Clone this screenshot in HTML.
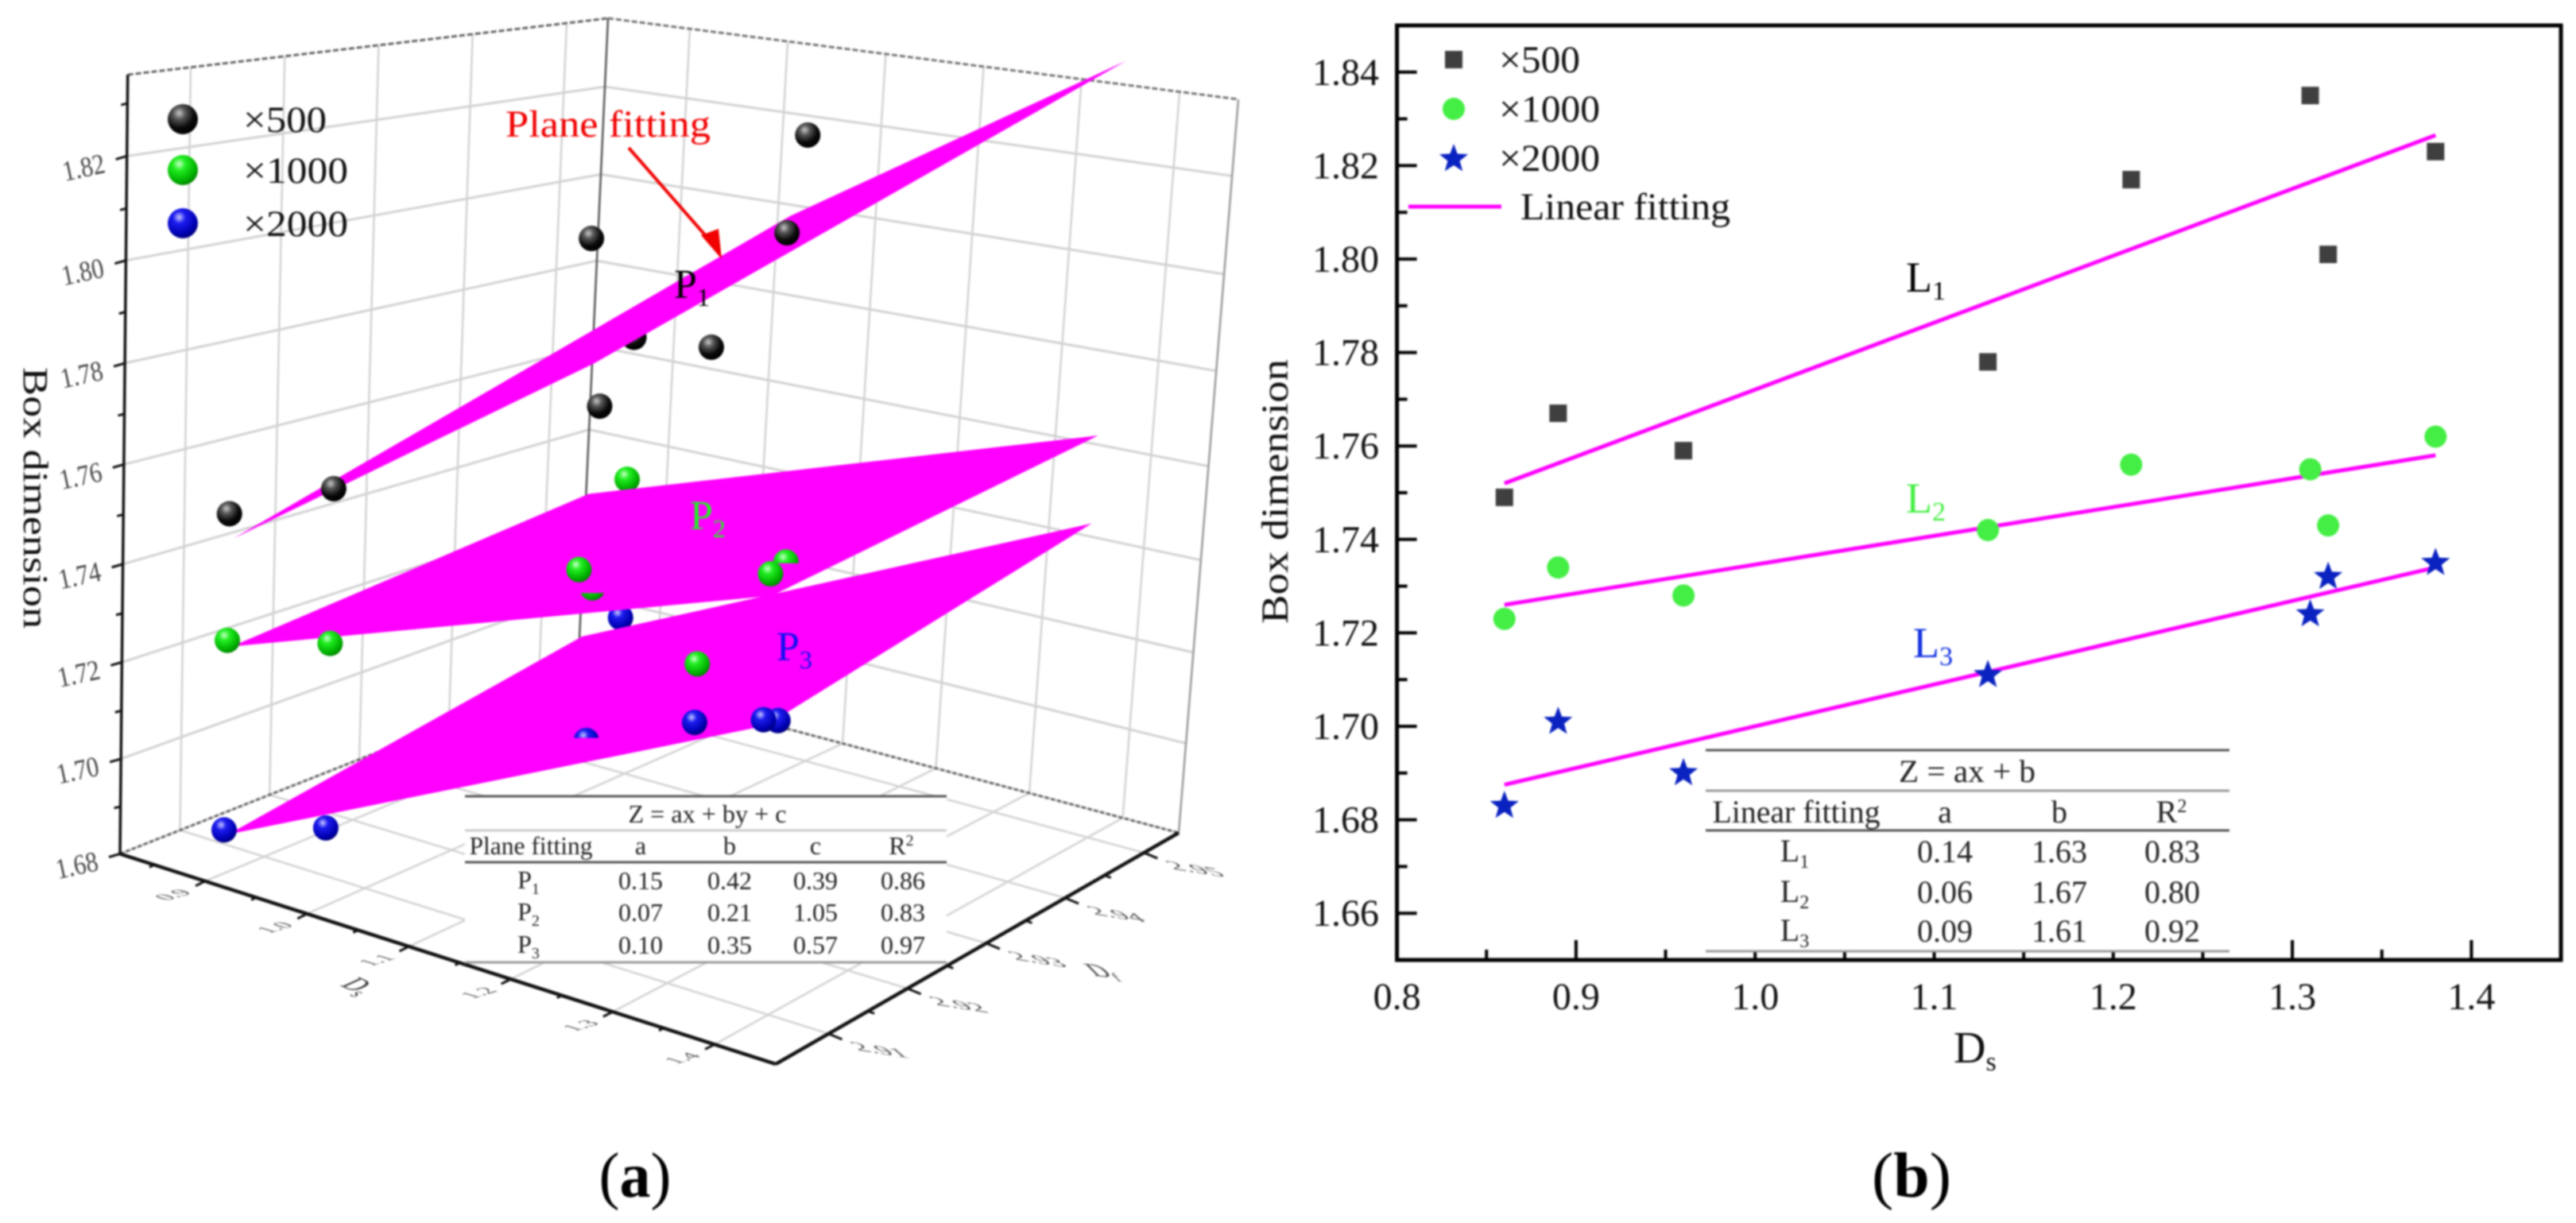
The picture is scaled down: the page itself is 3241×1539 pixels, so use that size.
<!DOCTYPE html>
<html lang="en">
<head>
<meta charset="utf-8">
<title>Box dimension plane and linear fitting</title>
<style>
html,body{margin:0;padding:0;background:#fff;width:3241px;height:1539px;overflow:hidden}
svg{display:block;filter:blur(1px)}
text{font-family:"Liberation Serif",serif}
</style>
</head>
<body>
<svg id="fig" xmlns="http://www.w3.org/2000/svg" width="3241" height="1539" viewBox="0 0 3241 1539">
<defs id="defs">
<radialGradient id="gBlack" cx=".38" cy=".3" r=".7"><stop offset="0" stop-color="#c8c8c8"/><stop offset=".3" stop-color="#555"/><stop offset=".7" stop-color="#0a0a0a"/><stop offset="1" stop-color="#000"/></radialGradient>
<radialGradient id="gGreen" cx=".38" cy=".3" r=".7"><stop offset="0" stop-color="#c8ffc8"/><stop offset=".3" stop-color="#22ee22"/><stop offset=".8" stop-color="#00b000"/><stop offset="1" stop-color="#008a00"/></radialGradient>
<radialGradient id="gBlue" cx=".38" cy=".3" r=".7"><stop offset="0" stop-color="#c8c8ff"/><stop offset=".3" stop-color="#1c1cf0"/><stop offset=".8" stop-color="#0000b0"/><stop offset="1" stop-color="#000080"/></radialGradient>
</defs>
<rect width="3241" height="1539" fill="#fff"/>
<g id="panelA"></g>
<g id="panelATop">
  <circle cx="230" cy="150" r="19" fill="url(#gBlack)"/>
  <circle cx="230" cy="214" r="19" fill="url(#gGreen)"/>
  <circle cx="230" cy="281" r="19" fill="url(#gBlue)"/>
  <text x="306" y="166" font-size="47" textLength="105" lengthAdjust="spacingAndGlyphs" fill="#111">×500</text>
  <text x="306" y="230" font-size="47" textLength="132" lengthAdjust="spacingAndGlyphs" fill="#111">×1000</text>
  <text x="306" y="297" font-size="47" textLength="132" lengthAdjust="spacingAndGlyphs" fill="#111">×2000</text>
  <text x="636" y="172" font-size="48" textLength="258" lengthAdjust="spacingAndGlyphs" fill="#f00000">Plane fitting</text>
  <path d="M791 186L896 306" stroke="#f00000" stroke-width="4" fill="none" transform="translate(0 0)"/>
  <path d="M908 326L882 296L904 288Z" fill="#f00000"/>
  <text x="848" y="375" font-size="52" fill="#000">P<tspan dy="10" font-size="32">1</tspan></text>
  <text x="868" y="666" font-size="52" fill="#22ee22">P<tspan dy="10" font-size="32">2</tspan></text>
  <text x="977" y="831" font-size="52" fill="#1010f0">P<tspan dy="10" font-size="32">3</tspan></text>
  <text transform="translate(30 462) rotate(90)" font-size="44" textLength="329" lengthAdjust="spacingAndGlyphs" fill="#111">Box dimension</text>
  <text transform="matrix(.9 .4 -1.2 .55 427 1240)" font-size="30" fill="#333">D<tspan dy="6" font-size="20">s</tspan></text>
  <text transform="matrix(1 .1 .7 .7 1377 1228)" font-size="34" fill="#444">D<tspan dy="6" font-size="22">f</tspan></text>

  <g font-size="32" fill="#222" text-anchor="middle">
    <rect x="585" y="1002" width="606" height="209" fill="#fff"/>
    <line x1="585" x2="1191" y1="1002" y2="1002" stroke="#555" stroke-width="3"/>
    <line x1="585" x2="1191" y1="1045" y2="1045" stroke="#ccc" stroke-width="3"/>
    <line x1="585" x2="1191" y1="1085" y2="1085" stroke="#555" stroke-width="3"/>
    <line x1="585" x2="1191" y1="1211" y2="1211" stroke="#999" stroke-width="3"/>
    <text x="890" y="1035" textLength="199" lengthAdjust="spacingAndGlyphs">Z = ax + by + c</text>
    <text x="668" y="1075" textLength="155" lengthAdjust="spacingAndGlyphs">Plane fitting</text>
    <text x="806" y="1075">a</text>
    <text x="918" y="1075">b</text>
    <text x="1026" y="1075">c</text>
    <text x="1134" y="1075">R<tspan dy="-11" font-size="20">2</tspan></text>
    <text x="665" y="1118">P<tspan dy="7" font-size="20">1</tspan></text>
    <text x="806" y="1119">0.15</text><text x="918" y="1119">0.42</text><text x="1026" y="1119">0.39</text><text x="1136" y="1119">0.86</text>
    <text x="665" y="1158">P<tspan dy="7" font-size="20">2</tspan></text>
    <text x="806" y="1159">0.07</text><text x="918" y="1159">0.21</text><text x="1026" y="1159">1.05</text><text x="1136" y="1159">0.83</text>
    <text x="665" y="1199">P<tspan dy="7" font-size="20">3</tspan></text>
    <text x="806" y="1200">0.10</text><text x="918" y="1200">0.35</text><text x="1026" y="1200">0.57</text><text x="1136" y="1200">0.97</text>
  </g>
  <text x="799" y="1506" font-size="80" text-anchor="middle" textLength="91" lengthAdjust="spacingAndGlyphs" fill="#000">(<tspan font-weight="bold">a</tspan>)</text>
</g>

<g id="panelB"></g>
<g id="panelBTop">
  <rect x="1818" y="64" width="22" height="22" fill="#3f3f3f"/>
  <circle cx="1829" cy="137" r="14" fill="#44ee44"/>
  <polygon id="legendStar" fill="#0a22c0"/>
  <line x1="1772" x2="1889" y1="260" y2="260" stroke="#ff00ff" stroke-width="5"/>
  <text x="1886" y="91" font-size="48" textLength="102" lengthAdjust="spacingAndGlyphs" fill="#111">×500</text>
  <text x="1886" y="153" font-size="48" textLength="127" lengthAdjust="spacingAndGlyphs" fill="#111">×1000</text>
  <text x="1886" y="215" font-size="48" textLength="127" lengthAdjust="spacingAndGlyphs" fill="#111">×2000</text>
  <text x="1913" y="276" font-size="48" textLength="264" lengthAdjust="spacingAndGlyphs" fill="#111">Linear fitting</text>
  <text x="2398" y="367" font-size="54" fill="#000">L<tspan dy="10" font-size="34">1</tspan></text>
  <text x="2398" y="645" font-size="54" fill="#44ee44">L<tspan dy="10" font-size="34">2</tspan></text>
  <text x="2407" y="827" font-size="54" fill="#1030e0">L<tspan dy="10" font-size="34">3</tspan></text>
  <text transform="translate(1620 785) rotate(-90)" font-size="48" textLength="333" lengthAdjust="spacingAndGlyphs" fill="#111">Box dimension</text>
  <text x="2458" y="1337" font-size="56" fill="#111">D<tspan dy="10" font-size="34">s</tspan></text>
  <text x="2405" y="1506" font-size="80" text-anchor="middle" textLength="100" lengthAdjust="spacingAndGlyphs" fill="#000">(<tspan font-weight="bold">b</tspan>)</text>

  <g font-size="40" fill="#222" text-anchor="middle">
    <rect x="2146" y="944" width="659" height="253" fill="#fff"/>
    <line x1="2146" x2="2805" y1="944" y2="944" stroke="#555" stroke-width="3"/>
    <line x1="2146" x2="2805" y1="995" y2="995" stroke="#999" stroke-width="3"/>
    <line x1="2146" x2="2805" y1="1045" y2="1045" stroke="#555" stroke-width="3"/>
    <line x1="2146" x2="2805" y1="1197" y2="1197" stroke="#999" stroke-width="3"/>
    <text x="2475" y="984" textLength="172" lengthAdjust="spacingAndGlyphs">Z = ax + b</text>
    <text x="2260" y="1035" textLength="211" lengthAdjust="spacingAndGlyphs">Linear fitting</text>
    <text x="2447" y="1035">a</text>
    <text x="2591" y="1035">b</text>
    <text x="2732" y="1035">R<tspan dy="-13" font-size="24">2</tspan></text>
    <text x="2258" y="1084">L<tspan dy="8" font-size="24">1</tspan></text>
    <text x="2447" y="1085">0.14</text><text x="2591" y="1085">1.63</text><text x="2733" y="1085">0.83</text>
    <text x="2258" y="1135">L<tspan dy="8" font-size="24">2</tspan></text>
    <text x="2447" y="1136">0.06</text><text x="2591" y="1136">1.67</text><text x="2733" y="1136">0.80</text>
    <text x="2258" y="1184">L<tspan dy="8" font-size="24">3</tspan></text>
    <text x="2447" y="1185">0.09</text><text x="2591" y="1185">1.61</text><text x="2733" y="1185">0.92</text>
  </g>
</g>
</svg>
<script>
// ---------- shared data ----------
const sampleDs = [0.86, 0.89, 0.96, 1.13, 1.21, 1.31, 1.32, 1.38];
const sampleDf = [2.910, 2.951, 2.910, 2.920, 2.9085, 2.921, 2.9094, 2.9102];
const box500 = [1.749, 1.767, 1.759, 1.778, 1.817, 1.835, 1.801, 1.823];
const box1000 = [1.723, 1.734, 1.728, 1.742, 1.756, 1.755, 1.743, 1.762];
const box2000 = [1.683, 1.701, 1.690, 1.711, null, 1.724, 1.732, 1.735];
// which spheres sit behind their fitted plane in the 3D view
const behind500 = [false, true, false, false, false, false, false, false];
const behind1000 = [false, true, false, false, false, false, false, false];
const behind2000 = [false, true, false, false, false, false, false, false];
// spheres poking through a plane: share visible from the top (+) or bottom (-)
const poke500 = [null, null, null, null, null, null, null, null];
const poke1000 = [null, null, null, -0.3, null, 0.55, null, null];
const poke2000 = [null, null, null, 0.4, null, null, null, null];

// 3D fitted plane coefficients, Z = a*Ds + b*Df + c
const planeA = [0.158, 0.07, 0.10];
const planeB = [0.42, 0.21, 0.35];
const planeC = [0.3854, 1.05, 0.577];
const planeDsExtent = [0.86, 1.38];
const planeDfExtent = [2.9105, 2.95];

// 3D axis tick labels
const zTicks3d = ['1.68', '1.70', '1.72', '1.74', '1.76', '1.78', '1.80', '1.82'];
const dsTicks3d = ['0.9', '1.0', '1.1', '1.2', '1.3', '1.4'];
const dfTicks3d = ['2.91', '2.92', '2.93', '2.94', '2.95'];

// 2D chart
const xTicks2d = ['0.8', '0.9', '1.0', '1.1', '1.2', '1.3', '1.4'];
const yTicks2d = ['1.66', '1.68', '1.70', '1.72', '1.74', '1.76', '1.78', '1.80', '1.82', '1.84'];
const fitDs = [0.86, 1.38];
const fit500 = [1.752, 1.8265];
const fit1000 = [1.726, 1.758];
const fit2000 = [1.6875, 1.734];

// ---------- helpers ----------
const NS = 'http://www.w3.org/2000/svg';
function make(parent, tag, attrs, text) {
  const el = document.createElementNS(NS, tag);
  for (const k in attrs) el.setAttribute(k, attrs[k]);
  if (text !== undefined) el.textContent = text;
  parent.appendChild(el);
  return el;
}
function poly(pts) { return pts.map(p => p[0].toFixed(1) + ',' + p[1].toFixed(1)).join(' '); }
function starPoints(cx, cy, R) {
  const pts = [];
  for (let i = 0; i < 10; i++) {
    const r = i % 2 ? R * 0.42 : R;
    const a = -Math.PI / 2 + i * Math.PI / 5;
    pts.push([cx + r * Math.cos(a), cy + r * Math.sin(a)]);
  }
  return poly(pts);
}

// ---------- 3D axis functions ----------
const dsRange = [0.8165, 1.46];
const dfRange = [2.9033, 2.9544];
const zRange = [1.68, 1.8354];
const floorL = [151, 1074.5], floorF = [976, 1339], floorR = [1483, 1048], floorB = [727, 847];
const topL = [160.7, 94], topF = [1030, 235], topR = [1558, 125], topB = [765, 23];
function mix(a, b, t) { return [a[0] + (b[0] - a[0]) * t, a[1] + (b[1] - a[1]) * t]; }
function project(ds, df, z) {
  const u = (ds - dsRange[0]) / (dsRange[1] - dsRange[0]);
  const v = (df - dfRange[0]) / (dfRange[1] - dfRange[0]);
  const w0 = (z - zRange[0]) / (zRange[1] - zRange[0]);
  const w = w0 * (1 - 0.06 * (1 - w0));
  const low = mix(mix(floorL, floorF, u), mix(floorB, floorR, u), v);
  const high = mix(mix(topL, topF, u), mix(topB, topR, u), v);
  return mix(low, high, w);
}

// ---------- panel a ----------
const A = document.getElementById('panelA');
const dsLo = dsRange[0], dsHi = dsRange[1], dfLo = dfRange[0], dfHi = dfRange[1], zLo = zRange[0], zHi = zRange[1];
const gridColor = '#d2d2d2';

zTicks3d.forEach(t => {
  const z = +t;
  const el = make(A, 'polyline', { points: poly([project(dsLo, dfLo, z), project(dsLo, dfHi, z), project(dsHi, dfHi, z)]), fill: 'none', stroke: gridColor, 'stroke-width': 3 });
  
  
});
dsTicks3d.forEach(t => {
  const d = +t;
  const el = make(A, 'polyline', { points: poly([project(d, dfHi, zHi), project(d, dfHi, zLo), project(d, dfLo, zLo)]), fill: 'none', stroke: gridColor, 'stroke-width': 2.5 });
  
  
});
dfTicks3d.forEach(t => {
  const d = +t;
  const el = make(A, 'polyline', { points: poly([project(dsLo, d, zHi), project(dsLo, d, zLo), project(dsHi, d, zLo)]), fill: 'none', stroke: gridColor, 'stroke-width': 2.5 });
  
  
});

// frame
function edge(a, b, stroke, width, dash, name) {
  const el = make(A, 'line', { x1: a[0], y1: a[1], x2: b[0], y2: b[1], stroke: stroke, 'stroke-width': width });
  if (dash) el.setAttribute('stroke-dasharray', dash);
  
  
}
edge(topL, topB, '#666', 3, '7 3', 'top-edge-left');
edge(topB, topR, '#777', 3, '7 3', 'top-edge-right');
edge(topB, floorB, '#555', 2.5, null, 'back-vertical-edge');
edge(topR, floorR, '#999', 2.5, null, 'right-vertical-edge');
edge(floorL, floorB, '#666', 3, '5 3', 'floor-back-edge-left');
edge(floorB, floorR, '#666', 3, '5 3', 'floor-back-edge-right');
edge(topL, floorL, '#111', 3.5, null, 'z-axis-line');
edge(floorL, floorF, '#111', 4.5, null, 'ds-axis-line');
edge(floorF, floorR, '#111', 4.5, null, 'df-axis-line');

// ticks and labels
zTicks3d.forEach((t, i) => {
  const p = project(dsLo, dfLo, +t);
  const tick = make(A, 'line', { x1: p[0], y1: p[1], x2: p[0] - 14, y2: p[1] + 4, stroke: '#111', 'stroke-width': 3 });
  
  
  const lab = make(A, 'text', { transform: 'translate(' + (p[0] - 52) + ' ' + (p[1] + 26) + ') rotate(-12) scale(.85 1)', 'font-size': 36, 'text-anchor': 'middle', fill: '#444' }, t);
  
  
  const q = project(dsLo, dfLo, +t + 0.01);
  if (+t + 0.01 < zHi) {
    const minor = make(A, 'line', { x1: q[0], y1: q[1], x2: q[0] - 8, y2: q[1] + 2, stroke: '#111', 'stroke-width': 3 });
    
    
  }
});
dsTicks3d.forEach(t => {
  const p = project(+t, dfLo, zLo);
  const tick = make(A, 'line', { x1: p[0], y1: p[1], x2: p[0] - 12, y2: p[1] + 6, stroke: '#111', 'stroke-width': 3 });
  
  
  const lab = make(A, 'text', { transform: 'matrix(1.1 -.33 1.1 .34 ' + (p[0] - 38) + ' ' + (p[1] + 18) + ')', 'font-size': 24, 'text-anchor': 'middle', 'dominant-baseline': 'middle', fill: '#555' }, t);
  
  
  const q = project(+t - 0.05, dfLo, zLo);
  const minor = make(A, 'line', { x1: q[0], y1: q[1], x2: q[0] - 6, y2: q[1] + 3, stroke: '#111', 'stroke-width': 3 });
  
  
});
dfTicks3d.forEach(t => {
  const p = project(dsHi, +t, zLo);
  const tick = make(A, 'line', { x1: p[0], y1: p[1], x2: p[0] + 17, y2: p[1] + 7, stroke: '#111', 'stroke-width': 3 });
  
  
  const lab = make(A, 'text', { transform: 'matrix(1.6 .25 .8 .7 ' + (p[0] + 66) + ' ' + (p[1] + 22) + ')', 'font-size': 24, 'text-anchor': 'middle', 'dominant-baseline': 'middle', fill: '#555' }, t);
  
  
  const q = project(dsHi, +t + 0.005, zLo);
  if (+t + 0.005 < dfHi) {
    const minor = make(A, 'line', { x1: q[0], y1: q[1], x2: q[0] + 8, y2: q[1] + 3, stroke: '#111', 'stroke-width': 3 });
    
    
  }
});

// spheres
const RADIUS3D = 16;
let clipCount = 0;
function sphere(series, i, fill, seriesName, poke) {
  const v = series[i];
  if (v === null) return;
  const p = project(sampleDs[i], sampleDf[i], v);
  const c = make(A, 'circle', { cx: p[0], cy: p[1], r: RADIUS3D, fill: fill });
  
  
  const share = poke[i];
  if (share !== null) {
    const id = 'poke' + (clipCount++);
    const cp = make(document.getElementById('defs'), 'clipPath', { id: id });
    const h = 2 * RADIUS3D * Math.abs(share);
    const top = share > 0 ? p[1] - RADIUS3D : p[1] + RADIUS3D - h;
    make(cp, 'rect', { x: p[0] - RADIUS3D, y: top, width: 2 * RADIUS3D, height: h });
    c.setAttribute('clip-path', 'url(#' + id + ')');
  }
}
const seriesList = [
  [box500, behind500, 'url(#gBlack)', '500', poke500],
  [box1000, behind1000, 'url(#gGreen)', '1000', poke1000],
  [box2000, behind2000, 'url(#gBlue)', '2000', poke2000]
];
seriesList.forEach(s => sampleDs.forEach((_, i) => { if (s[1][i]) sphere(s[0], i, s[2], s[3], s[4]); }));

// planes
planeA.forEach((a, k) => {
  const z = (ds, df) => a * ds + planeB[k] * df + planeC[k];
  const d0 = planeDsExtent[0], d1 = planeDsExtent[1], f0 = planeDfExtent[0], f1 = planeDfExtent[1];
  const corners = [project(d0, f0, z(d0, f0)), project(d1, f0, z(d1, f0)), project(d1, f1, z(d1, f1)), project(d0, f1, z(d0, f1))];
  const el = make(A, 'polygon', { points: poly(corners), fill: '#ff00ff' });
  
  
});

seriesList.forEach(s => sampleDs.forEach((_, i) => { if (!s[1][i]) sphere(s[0], i, s[2], s[3], s[4]); }));

// ---------- panel b ----------
const B = document.getElementById('panelB');
function xB(v) { return 1757.6 + (v - 0.8) * 2253; }
function yB(v) { return 90.8 + (1.84 - v) * 5880; }
const frameLeft = xB(0.8), frameRight = xB(1.45), frameTop = yB(1.85), frameBottom = yB(1.65);

xTicks2d.forEach((t, i) => {
  const v = +t, x = xB(v);
  const tick = make(B, 'line', { x1: x, x2: x, y1: frameBottom, y2: frameBottom - 25, stroke: '#000', 'stroke-width': 4 });
  
  
  const minorX = xB(v + 0.05);
  const minor = make(B, 'line', { x1: minorX, x2: minorX, y1: frameBottom, y2: frameBottom - 13, stroke: '#000', 'stroke-width': 4 });
  
  
  const lab = make(B, 'text', { x: x, y: 1270, 'font-size': 48, 'text-anchor': 'middle', fill: '#111' }, t);
  
  
});
yTicks2d.forEach(t => {
  const v = +t, y = yB(v);
  const tick = make(B, 'line', { x1: frameLeft, x2: frameLeft + 25, y1: y, y2: y, stroke: '#000', 'stroke-width': 4 });
  
  
  const minorY = yB(v - 0.01);
  const minor = make(B, 'line', { x1: frameLeft, x2: frameLeft + 13, y1: minorY, y2: minorY, stroke: '#000', 'stroke-width': 4 });
  
  
  const lab = make(B, 'text', { x: 1735, y: y + 16, 'font-size': 48, 'text-anchor': 'end', fill: '#111' }, t);
  
  
});
const frame = make(B, 'rect', { x: frameLeft, y: frameTop, width: frameRight - frameLeft, height: frameBottom - frameTop, fill: 'none', stroke: '#000', 'stroke-width': 5 });



[fit500, fit1000, fit2000].forEach((f, k) => {
  const line = make(B, 'line', { x1: xB(fitDs[0]), y1: yB(f[0]), x2: xB(fitDs[1]), y2: yB(f[1]), stroke: '#ff00ff', 'stroke-width': 5 });
  
  
});
sampleDs.forEach((ds, i) => {
  const sq = make(B, 'rect', { x: xB(ds) - 11, y: yB(box500[i]) - 11, width: 22, height: 22, fill: '#3f3f3f' });
  
  
  const c = make(B, 'circle', { cx: xB(ds), cy: yB(box1000[i]), r: 14, fill: '#44ee44' });
  
  
  if (box2000[i] !== null) {
    const st = make(B, 'polygon', { points: starPoints(xB(ds), yB(box2000[i]), 19), fill: '#0a22c0' });
    
    
  }
});
document.getElementById('legendStar').setAttribute('points', starPoints(1829, 200, 19));
// move annotation layers above both charts
const svg = document.getElementById('fig');
svg.appendChild(document.getElementById('panelB'));
svg.appendChild(document.getElementById('panelATop'));
svg.appendChild(document.getElementById('panelBTop'));
</script>
</body>
</html>
